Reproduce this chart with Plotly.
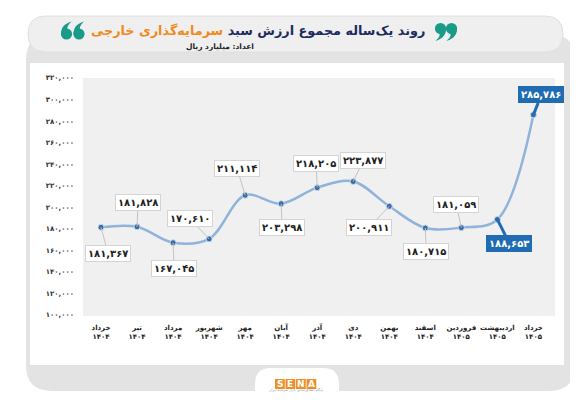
import plotly.graph_objects as go

# ---------------- data ----------------
months = ["خرداد", "تیر", "مرداد", "شهریور", "مهر", "آبان", "آذر", "دی",
          "بهمن", "اسفند", "فروردین", "اردیبهشت", "خرداد"]
years = ["۱۴۰۴"] * 10 + ["۱۴۰۵"] * 3
values = [181367, 181828, 167045, 170610, 211114, 203298, 218205, 223877,
          200911, 180715, 181059, 188653, 285786]
y_tick_values = [100000, 120000, 140000, 160000, 180000, 200000, 220000,
                 240000, 260000, 280000, 300000, 320000]

title_main = "روند یک‌ساله مجموع ارزش سبد"
title_accent = "سرمایه‌گذاری خارجی"
subtitle = "اعداد: میلیارد ریال"

# ---------------- helpers ----------------
FA = str.maketrans("0123456789", "۰۱۲۳۴۵۶۷۸۹")


def fa(n):
    return f"{n:,}".translate(FA)


W, H = 578, 400
PL, PR, PT, PB = 75, 547, 70, 308


def px(x):
    return (x - PL) / (PR - PL)


def py(y):
    return (PB - y) / (PB - PT)


def pt(a, b):
    return f"{px(a):.5f},{py(b):.5f}"


def rrect(x0, y0, x1, y1, r):
    pts = [
        ("M", [(x0 + r, y0)]),
        ("L", [(x1 - r, y0)]),
        ("Q", [(x1, y0), (x1, y0 + r)]),
        ("L", [(x1, y1 - r)]),
        ("Q", [(x1, y1), (x1 - r, y1)]),
        ("L", [(x0 + r, y1)]),
        ("Q", [(x0, y1), (x0, y1 - r)]),
        ("L", [(x0, y0 + r)]),
        ("Q", [(x0, y0), (x0 + r, y0)]),
    ]
    s = ""
    for cmd, ps in pts:
        s += cmd + " " + " ".join(pt(a, b) for a, b in ps) + " "
    return s + "Z"


def comma_shapes(cx, cy, flip, color):
    s = -1 if flip else 1
    r = 5.6
    rel = [(5.4, -1), (6.5, 9), (-5, 12.5), (1.5, 7), (-2, 2)]
    p = [(cx + s * a, cy + s * b) for a, b in rel]
    path = (f"M {pt(*p[0])} Q {pt(*p[1])} {pt(*p[2])} "
            f"Q {pt(*p[3])} {pt(*p[4])} Z")
    return [
        dict(type="circle", xref="paper", yref="paper", x0=px(cx - r), x1=px(cx + r),
             y0=py(cy + r), y1=py(cy - r), fillcolor=color, line=dict(width=0), layer="below"),
        dict(type="path", path=path, xref="paper", yref="paper", fillcolor=color,
             line=dict(width=0), layer="below"),
    ]


FONT = "DejaVu Sans"
x_idx = list(range(len(values)))
x_labels = [f"<b>{m}</b><br><b>{y}</b>" for m, y in zip(months, years)]

fig = go.Figure()
fig.add_trace(go.Scatter(
    x=x_idx, y=values, mode="lines+markers",
    line=dict(color="#8fb3da", width=2.5, shape="spline", smoothing=1.0),
    marker=dict(color="#3a6aa3", size=6, line=dict(color="#c9d9ec", width=1)),
    hoverinfo="skip", showlegend=False,
))

shapes = []
# outer gray card
shapes.append(dict(type="path", path=rrect(18, 26, 567, 383, 26), xref="paper", yref="paper",
                   fillcolor="#e3e3e3", line=dict(width=0), layer="below"))
# title pill
shapes.append(dict(type="path", path=rrect(20, 8, 555, 44, 18), xref="paper", yref="paper",
                   fillcolor="#efefef", line=dict(color="#e0e0e0", width=1), layer="below"))
# white panel
shapes.append(dict(type="rect", x0=px(22), x1=px(556), y0=py(357), y1=py(55), xref="paper", yref="paper",
                   fillcolor="#ffffff", line=dict(width=0), layer="below"))
# plot area
shapes.append(dict(type="rect", x0=0, x1=1, y0=0, y1=1, xref="paper", yref="paper",
                   fillcolor="#f0f0f0", line=dict(width=0), layer="below"))
# bottom tab
shapes.append(dict(type="path", path=rrect(247, 360, 331, 420, 16), xref="paper", yref="paper",
                   fillcolor="#ffffff", line=dict(width=0), layer="below"))
# quote marks
TEAL = "#1a9b87"
for cx in (432.5, 443.5):
    shapes += comma_shapes(cx, 20.5, False, TEAL)
for cx in (58.5, 71):
    shapes += comma_shapes(cx, 26, True, TEAL)
# SENA logo boxes
logo_letters = ["S", "E", "N", "A"]
for i, ch in enumerate(logo_letters):
    x0 = 267 + i * 10.5
    shapes.append(dict(type="rect", x0=px(x0), x1=px(x0 + 9.8), y0=py(381), y1=py(371),
                       xref="paper", yref="paper", fillcolor="#ef8f2a", line=dict(width=0), layer="below"))

annotations = []
# title
annotations.append(dict(
    x=px(419), y=py(22), xref="paper", yref="paper", xanchor="right", yanchor="middle",
    text=f"<b>{title_main} <span style='color:#f08a1c'>{title_accent}</span></b>",
    font=dict(family=FONT, size=12.8, color="#1b2b5e"), showarrow=False))
annotations.append(dict(
    x=px(248), y=py(38), xref="paper", yref="paper", xanchor="right", yanchor="middle",
    text=f"<b>{subtitle}</b>", font=dict(family=FONT, size=7.5, color="#222222"), showarrow=False))
# logo letters
for i, ch in enumerate(logo_letters):
    annotations.append(dict(x=px(267 + i * 10.5 + 4.9), y=py(376), xref="paper", yref="paper",
                            text=f"<b>{ch}</b>", font=dict(family=FONT, size=9, color="#ffffff"),
                            showarrow=False, xanchor="center", yanchor="middle"))
annotations.append(dict(x=px(288), y=py(386), xref="paper", yref="paper",
                        text="پایگاه اطلاع‌رسانی بازار سرمایه ایران",
                        font=dict(family=FONT, size=3.5, color="#999999"), showarrow=False))

# value callouts (pixel offsets from point to label centre)
offsets = [(7, 26), (1, -24), (1, 26), (-19, -20), (-8, -27), (1, 24), (-1, -24),
           (10, -21), (-20, 21), (1, 23), (-5, -23), (12, 24), (8, -20)]
highlight = {11, 12}
for i, (v, (ox, oy)) in enumerate(zip(values, offsets)):
    hi = i in highlight
    annotations.append(dict(
        x=i, y=v, xref="x", yref="y", ax=ox, ay=oy, axref="pixel", ayref="pixel",
        text=f"<b>{fa(v)}</b>",
        font=dict(family=FONT, size=10, color="#ffffff" if hi else "#222222"),
        bgcolor="#1f6cb3" if hi else "#ffffff",
        bordercolor="#1f6cb3" if hi else "#d4d4d4", borderwidth=1, borderpad=2,
        showarrow=True, arrowhead=0, arrowwidth=3 if hi else 1,
        arrowcolor="#1f6cb3" if hi else "#c4c4c4", standoff=0,
    ))

fig.update_layout(
    width=W, height=H,
    margin=dict(l=PL, r=W - PR, t=PT, b=H - PB, pad=0),
    paper_bgcolor="#ffffff", plot_bgcolor="rgba(0,0,0,0)",
    shapes=shapes, annotations=annotations,
    xaxis=dict(range=[-0.5, 12.6], tickvals=x_idx, ticktext=x_labels, showgrid=False,
               zeroline=False, showline=False, ticks="", ticklabelstandoff=6, tickangle=0,
               tickfont=dict(family=FONT, size=7, color="#222222")),
    yaxis=dict(range=[99000, 320000], tickvals=y_tick_values,
               ticktext=[f"<b>{fa(t)}</b>" for t in y_tick_values], showgrid=False,
               zeroline=False, showline=False, ticks="", ticklabelstandoff=8,
               tickfont=dict(family=FONT, size=7, color="#333333")),
    font=dict(family=FONT),
)

fig.write_html("out.html")
